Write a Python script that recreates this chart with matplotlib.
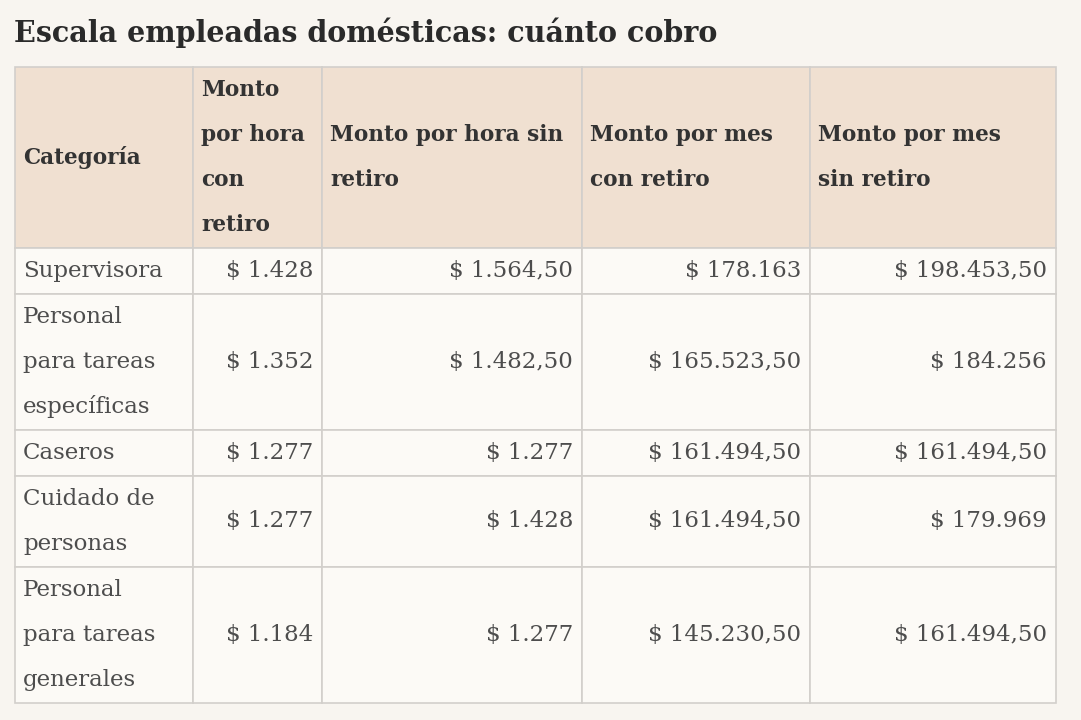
import matplotlib
matplotlib.use("Agg")
import matplotlib.pyplot as plt
from matplotlib.patches import Rectangle

title = "Escala empleadas domésticas: cuánto cobro"
headers = ["Categoría", "Monto\npor hora\ncon\nretiro", "Monto por hora sin\nretiro",
           "Monto por mes\ncon retiro", "Monto por mes\nsin retiro"]
categories = ["Supervisora", "Personal\npara tareas\nespecíficas", "Caseros",
              "Cuidado de\npersonas", "Personal\npara tareas\ngenerales"]
hora_con_retiro = [1428, 1352, 1277, 1277, 1184]
hora_sin_retiro = [1564.50, 1482.50, 1277, 1428, 1277]
mes_con_retiro = [178163, 165523.50, 161494.50, 161494.50, 145230.50]
mes_sin_retiro = [198453.50, 184256, 161494.50, 179969, 161494.50]


def fmt(v):
    # argentine style: dot for thousands, comma for decimals
    if float(v).is_integer():
        s = f"{int(v):,}".replace(",", ".")
    else:
        s = f"{v:,.2f}".replace(",", "X").replace(".", ",").replace("X", ".")
    return "$ " + s


# layout (pixels)
W, H = 1081, 720
col_edges = [15, 193, 322, 582, 810, 1056]
top = 67
line_h = 45
font = "DejaVu Serif"
bg = "#f8f5f0"
head_bg = "#f0e0d1"
body_bg = "#fcfaf6"
grid = "#d2cfcb"

fig = plt.figure(figsize=(W / 100, H / 100), dpi=100, facecolor=bg)
ax = fig.add_axes([0, 0, 1, 1])
ax.set_xlim(0, W)
ax.set_ylim(H, 0)
ax.axis("off")

ax.text(14, 33, title, fontsize=20.6, fontweight="bold", family=font,
        color="#2a2a2a", va="center", ha="left")


def draw_lines(text, x, yc, ha, **kw):
    lines = text.split("\n")
    n = len(lines)
    for i, ln in enumerate(lines):
        ax.text(x, yc + (i - (n - 1) / 2) * line_h, ln, ha=ha, va="center",
                family=font, **kw)


def draw_row(cells, y0, nlines, is_header):
    h = nlines * line_h + 1
    for j, txt in enumerate(cells):
        x0, x1 = col_edges[j], col_edges[j + 1]
        ax.add_patch(Rectangle((x0, y0), x1 - x0, h,
                               facecolor=head_bg if is_header else body_bg,
                               edgecolor=grid, linewidth=1.2))
        yc = y0 + h / 2
        if is_header:
            draw_lines(txt, x0 + 8, yc, "left", fontsize=15.6,
                       fontweight="bold", color="#333333")
        elif j == 0:
            draw_lines(txt, x0 + 8, yc, "left", fontsize=16.5, color="#4d4d4d")
        else:
            draw_lines(txt, x1 - 9, yc, "right", fontsize=16.5, color="#4d4d4d")
    return y0 + h


y = draw_row(headers, top, 4, True)
for i, cat in enumerate(categories):
    row = [cat, fmt(hora_con_retiro[i]), fmt(hora_sin_retiro[i]),
           fmt(mes_con_retiro[i]), fmt(mes_sin_retiro[i])]
    y = draw_row(row, y, cat.count("\n") + 1, False)

fig.savefig("out.png", dpi=100, facecolor=bg)
